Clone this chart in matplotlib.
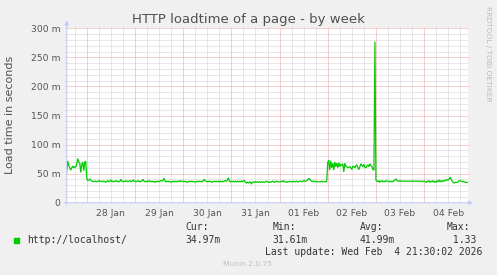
import matplotlib
matplotlib.use('Agg')
import matplotlib.pyplot as plt
from matplotlib.patches import Rectangle
import numpy as np

# ---------------- data (ms, 30-minute samples) ----------------
# hour offsets are measured from 27 Jan 00:00
day_start_hours = [14, 24, 48, 72, 96, 120, 144, 168, 192]

jan27 = [53, 72, 64, 60, 56, 60, 63, 60, 62, 61, 66, 76, 70, 68, 52, 66, 70, 55, 70, 71]
jan28 = [41, 38, 39, 41, 39, 37, 37, 36, 37, 37, 36, 37,
         38, 36, 37, 37, 36, 37, 36, 35, 37, 38, 36, 37,
         39, 36, 37, 36, 37, 38, 36, 37, 36, 37, 40, 37,
         36, 37, 36, 38, 37, 36, 37, 38, 36, 37, 39, 37]
jan29 = [37, 36, 37, 38, 36, 37, 36, 38, 40, 37, 36, 37,
         36, 37, 38, 36, 37, 36, 37, 36, 35, 37, 36, 37,
         36, 37, 38, 37, 39, 42, 37, 36, 37, 36, 37, 36,
         35, 36, 37, 36, 37, 36, 37, 36, 37, 38, 36, 37]
jan30 = [37, 36, 37, 36, 35, 36, 37, 36, 37, 36, 37, 36,
         35, 36, 37, 36, 37, 36, 37, 36, 38, 40, 38, 37,
         36, 37, 36, 37, 36, 35, 36, 37, 36, 37, 36, 37,
         36, 37, 36, 37, 36, 37, 38, 37, 39, 43, 37, 36]
jan31 = [37, 36, 37, 36, 37, 36, 37, 36, 37, 36, 37, 36,
         38, 38, 35, 34, 35, 34, 35, 36, 32, 35, 36, 35,
         36, 35, 36, 35, 36, 35, 36, 35, 36, 35, 36, 37,
         36, 35, 36, 35, 36, 37, 36, 35, 36, 37, 36, 36]
feb01 = [36, 36, 37, 36, 38, 36, 36, 35, 36, 36, 37, 36,
         36, 36, 37, 36, 36, 37, 36, 36, 37, 37, 36, 37,
         38, 37, 37, 38, 39, 42, 40, 38, 37, 37, 36, 37,
         36, 36, 36, 36, 36, 36, 37, 36, 36, 36, 36, 37]
feb02 = [70, 73, 56, 72, 60, 68, 56, 70, 62, 68, 60, 69,
         62, 66, 64, 67, 53, 68, 63, 62, 60, 61, 62, 60,
         57, 63, 62, 60, 64, 65, 60, 57, 62, 67, 64, 62,
         66, 61, 60, 63, 65, 62, 67, 64, 62, 57, 56, 277]
feb03 = [39, 37, 36, 38, 35, 37, 38, 36, 37, 36, 38, 37,
         37, 36, 37, 36, 37, 36, 38, 39, 41, 38, 37, 37,
         38, 37, 37, 37, 37, 37, 37, 37, 37, 37, 37, 37,
         37, 37, 37, 37, 37, 37, 37, 37, 37, 37, 36, 37]
feb04 = [37, 36, 35, 37, 36, 38, 35, 37, 36, 38, 35, 37,
         35, 38, 36, 39, 36, 38, 36, 38, 37, 39, 38, 40,
         39, 41, 44, 40, 37, 35, 34, 35, 35, 35, 36, 38,
         38, 37, 36, 37, 36, 35, 35, 35]
days = [jan27, jan28, jan29, jan30, jan31, feb01, feb02, feb03, feb04]

day_labels = ['28 Jan', '29 Jan', '30 Jan', '31 Jan', '01 Feb', '02 Feb', '03 Feb', '04 Feb']
y_ticks = [0, 50, 100, 150, 200, 250, 300]
y_tick_labels = ['0', '50 m', '100 m', '150 m', '200 m', '250 m', '300 m']

title = 'HTTP loadtime of a page - by week'
ylabel = 'Load time in seconds'
series_name = 'http://localhost/'
stat_names = ['Cur:', 'Min:', 'Avg:', 'Max:']
stat_values = ['34.97m', '31.61m', '41.99m', ' 1.33']
last_update = 'Last update: Wed Feb  4 21:30:02 2026'

# ---------------- figure ----------------
W, H = 497, 275
fig = plt.figure(figsize=(W / 100, H / 100), dpi=100, facecolor='#F0F0F0')


def fx(px):
    return px / W


def fy(py):
    return 1 - py / H


x0, x1, ytop, ybot = 66.7, 468.3, 28.3, 202.7
ax = fig.add_axes([fx(x0), fy(ybot), fx(x1) - fx(x0), fy(ytop) - fy(ybot)])
ax.set_facecolor('white')

t = []
v = []
for start, vals in zip(day_start_hours, days):
    for i, val in enumerate(vals):
        t.append(start + 0.5 * i)
        v.append(val)
t = np.array(t)
v = np.array(v)

xmin, xmax = 14, 214
ax.set_xlim(xmin, xmax)
ax.set_ylim(0, 300)

minor_col = '#D0D0D0'
major_col = '#F2A0A0'
dots = (0, (1, 1))
lw = 0.72

for h in np.arange(18, xmax, 6):
    if h % 24 != 0:
        ax.axvline(h, color=minor_col, lw=lw, ls=dots, zorder=1)
for m in range(10, 300, 10):
    if m % 50 != 0:
        ax.axhline(m, color=minor_col, lw=lw, ls=dots, zorder=1)
for h in np.arange(24, xmax, 24):
    ax.axvline(h, color=major_col, lw=lw, ls=dots, zorder=2)
for m in range(50, 301, 50):
    ax.axhline(m, color=major_col, lw=lw, ls=dots, zorder=2, clip_on=False)

ax.plot(t, v, color='#00CC00', lw=0.9, zorder=5, solid_joinstyle='miter')

for s in ax.spines.values():
    s.set_visible(False)

noon = [24 * (k + 1) + 12 for k in range(len(day_labels))]
ax.set_xticks(noon, labels=day_labels)
ax.set_yticks(y_ticks, labels=y_tick_labels)
ax.set_yticks(range(10, 300, 10), minor=True)
ax.tick_params(axis='x', length=0, pad=4.2, labelsize=6.7, labelcolor='#555555')
ax.tick_params(axis='y', which='major', length=1.5, width=0.6, color='#C8C8C8',
               pad=3.0, labelsize=6.7, labelcolor='#555555')
ax.tick_params(axis='y', which='minor', length=1.5, width=0.6, color='#C8C8C8')

axis_col = '#C4CCF4'
ax.annotate('', xy=(0, 1.045), xytext=(0, -0.01), xycoords='axes fraction',
            arrowprops=dict(arrowstyle='-|>', color=axis_col, lw=0.8,
                            mutation_scale=6, shrinkA=0, shrinkB=0), zorder=6)
ax.annotate('', xy=(1.012, 0), xytext=(-0.006, 0), xycoords='axes fraction',
            arrowprops=dict(arrowstyle='-|>', color=axis_col, lw=0.8,
                            mutation_scale=6, shrinkA=0, shrinkB=0), zorder=6)

# texts
fig.text(fx(248), fy(19.3), title, ha='center', va='center', fontsize=9.5,
         color='#505050', family='DejaVu Sans')
fig.text(fx(10.5), fy(115), ylabel, ha='center', va='center', rotation=90,
         fontsize=8, color='#505050', family='DejaVu Sans')
fig.text(fx(488), fy(53.5), 'RRDTOOL / TOBI OETIKER', ha='center', va='center',
         rotation=270, fontsize=5.4, color='#BBBBBB', family='DejaVu Sans')

mono = dict(family='DejaVu Sans Mono', fontsize=7, color='#333333', va='center')
fig.patches.append(Rectangle((fx(14), fy(242.7)), 5.3 / W, 5 / H,
                             transform=fig.transFigure, color='#00CC00'))
fig.text(fx(26.7), fy(239.7), series_name, ha='left', **mono)
for xpos, name, val in zip([185.7, 272.7, 360.0, 446.7], stat_names, stat_values):
    fig.text(fx(xpos), fy(227.3), name, ha='left', **mono)
    fig.text(fx(xpos), fy(239.7), val, ha='left', **mono)
fig.text(fx(482.7), fy(251.7), last_update, ha='right', **mono)
fig.text(fx(247.8), fy(263.7), 'Munin 2.0.75', ha='center', va='center',
         fontsize=5.4, color='#C0C0C0', family='DejaVu Sans')

fig.savefig('out.png', dpi=100, facecolor=fig.get_facecolor())
